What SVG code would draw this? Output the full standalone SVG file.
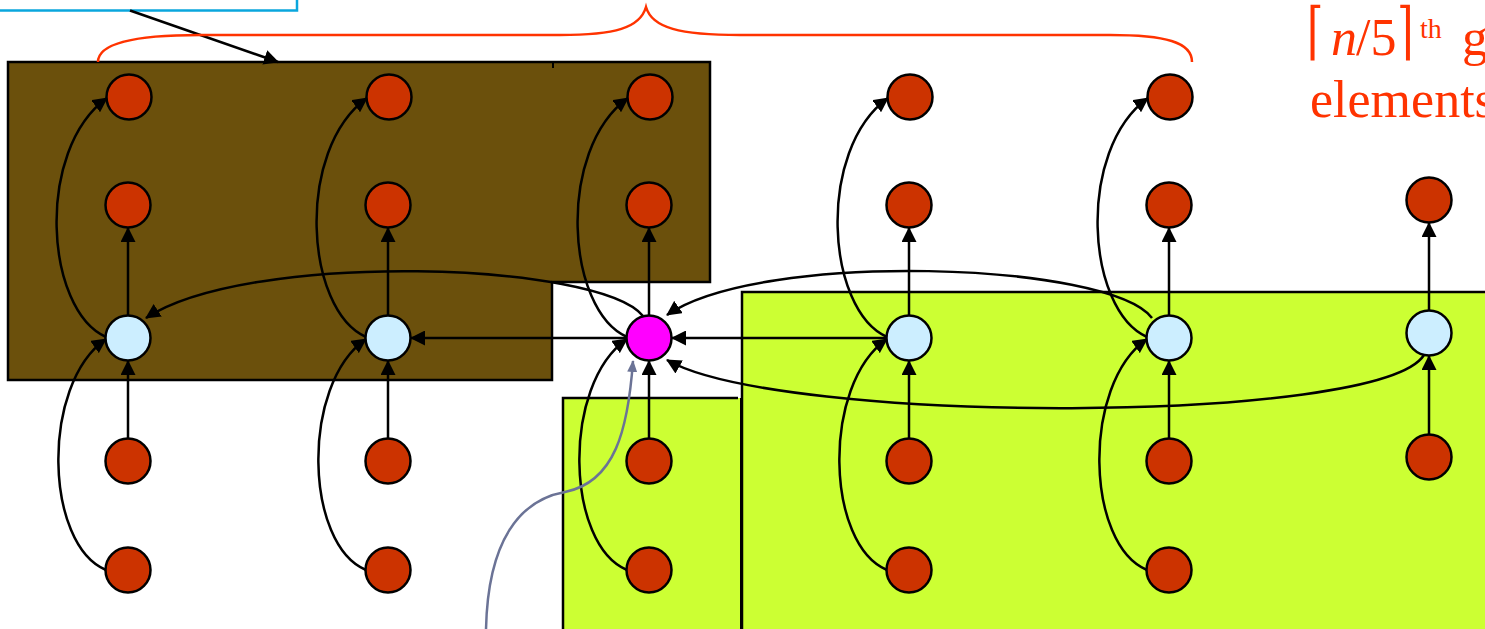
<svg xmlns="http://www.w3.org/2000/svg" width="1485" height="629" viewBox="0 0 1485 629">
  <style>
    .red { fill: #cc3300; stroke: #000; stroke-width: 2.5; }
    .med { fill: #cceeff; stroke: #000; stroke-width: 2.5; }
    .mom { fill: #ff00ff; stroke: #000; stroke-width: 2.5; }
    .edge { fill: none; stroke: #000; stroke-width: 2.5; marker-end: url(#ah); }
    .lbl { font-family: "Liberation Serif", "DejaVu Serif", serif; fill: #ff3300; }
    .brk { font-family: "DejaVu Serif", serif; fill: #ff3300; font-size: 50px; }
  </style>
  <defs>
    <marker id="ah" markerWidth="15" markerHeight="15" refX="14" refY="7.5" orient="auto" markerUnits="userSpaceOnUse">
      <path d="M0,0 L15,7.5 L0,15 z" fill="#000"/>
    </marker>
    <marker id="ahg" markerWidth="12" markerHeight="10" refX="11" refY="5" orient="auto" markerUnits="userSpaceOnUse">
      <path d="M0,0 L12,5 L0,10 z" fill="#6b7396"/>
    </marker>
  </defs>

  <rect width="1485" height="629" fill="#fff"/>

  <!-- shaded regions -->
  <g id="regions">
    <path d="M8,62 H710 V282 H552 V380 H8 Z" fill="#6b500c" stroke="#000" stroke-width="2.5"/>
    <line x1="553" y1="62" x2="553" y2="68" stroke="#000" stroke-width="2"/>
    <rect x="742" y="292" width="760" height="360" fill="#ccff33" stroke="#000" stroke-width="2.5"/>
    <path d="M563,640 V398 H740 V640 Z" fill="#ccff33"/>
    <path d="M563,640 V398 H738" fill="none" stroke="#000" stroke-width="2.5"/>
    <line x1="740.5" y1="398" x2="740.5" y2="640" stroke="#000" stroke-width="1"/>
  </g>

  <!-- callout box and brace -->
  <g id="callout">
    <rect x="-10" y="-10" width="307" height="20.5" fill="#fff" stroke="#0aa6dd" stroke-width="2.5"/>
    <line x1="130" y1="10.5" x2="278" y2="62" class="edge"/>
  </g>
  <g id="brace">
    <path d="M98,62 C98,42 140,35 200,35 L560,35 C615,35 640,28 646,7 C652,28 680,35 740,35 L1110,35 C1165,35 1192,42 1192,62" fill="none" stroke="#ff3300" stroke-width="2.5"/>
  </g>

  <g id="label">
    <text class="brk" transform="translate(1307,52) scale(0.85,1.25)">⌈</text>
    <text class="brk" transform="translate(1397,52) scale(0.85,1.25)">⌉</text>
    <text class="lbl" y="55" font-size="52"><tspan x="1331" font-style="italic">n</tspan><tspan x="1356">/5</tspan><tspan x="1420" y="38" font-size="28">th</tspan><tspan x="1462" y="55">g</tspan></text>
    <text class="lbl" x="1310" y="117" font-size="52">elements</text>
  </g>

  <!-- connectors -->
  <g id="connectors">
    <!-- columns: 129, 388, 649, 909, 1169, 1429 -->
    <!-- vertical: median to upper element -->
    <line class="edge" x1="128" y1="315" x2="128" y2="228"/>
    <line class="edge" x1="388" y1="315" x2="388" y2="228"/>
    <line class="edge" x1="649" y1="315" x2="649" y2="228"/>
    <line class="edge" x1="909" y1="315" x2="909" y2="228"/>
    <line class="edge" x1="1169" y1="315" x2="1169" y2="228"/>
    <line class="edge" x1="1429" y1="310" x2="1429" y2="223"/>
    <!-- vertical: lower element to median -->
    <line class="edge" x1="128" y1="438" x2="128" y2="361"/>
    <line class="edge" x1="388" y1="438" x2="388" y2="361"/>
    <line class="edge" x1="649" y1="438" x2="649" y2="361"/>
    <line class="edge" x1="909" y1="438" x2="909" y2="361"/>
    <line class="edge" x1="1169" y1="438" x2="1169" y2="361"/>
    <line class="edge" x1="1429" y1="434" x2="1429" y2="356"/>
    <!-- curved: median to top element -->
    <path class="edge" d="M106,337 C45,310 35,150 107,98"/>
    <path class="edge" d="M366,337 C305,310 295,150 367,98"/>
    <path class="edge" d="M627,337 C566,310 556,150 628,98"/>
    <path class="edge" d="M887,337 C826,310 816,150 888,98"/>
    <path class="edge" d="M1147,337 C1086,310 1076,150 1148,98"/>
    <!-- curved: bottom element to median -->
    <path class="edge" d="M106,570 C45,545 40,385 106,339"/>
    <path class="edge" d="M366,570 C305,545 300,385 366,339"/>
    <path class="edge" d="M627,570 C566,545 561,385 627,339"/>
    <path class="edge" d="M887,570 C826,545 821,385 887,339"/>
    <path class="edge" d="M1147,570 C1086,545 1081,385 1147,339"/>
    <!-- median of medians links -->
    <line class="edge" x1="627" y1="338" x2="411" y2="338"/>
    <line class="edge" x1="887" y1="338" x2="672" y2="338"/>
    <path class="edge" d="M643,316 C600,262 250,250 146,318"/>
    <path class="edge" d="M1152,318 C1110,262 760,250 667,315"/>
    <path class="edge" d="M1424,355 C1380,425 780,425 667,360"/>
    <!-- pointer to median of medians -->
    <path d="M486,629 C488,540 520,500 565,492 C615,482 628,430 633,361" fill="none" stroke="#6b7396" stroke-width="2.5" marker-end="url(#ahg)"/>
  </g>

  <!-- elements -->
  <g id="col1">
    <circle class="red" cx="129" cy="97" r="22.5"/>
    <circle class="red" cx="128" cy="205" r="22.5"/>
    <circle class="med" cx="128" cy="338" r="22.5"/>
    <circle class="red" cx="128" cy="461" r="22.5"/>
    <circle class="red" cx="128" cy="570" r="22.5"/>
  </g>
  <g id="col2">
    <circle class="red" cx="389" cy="97" r="22.5"/>
    <circle class="red" cx="388" cy="205" r="22.5"/>
    <circle class="med" cx="388" cy="338" r="22.5"/>
    <circle class="red" cx="388" cy="461" r="22.5"/>
    <circle class="red" cx="388" cy="570" r="22.5"/>
  </g>
  <g id="col3">
    <circle class="red" cx="650" cy="97" r="22.5"/>
    <circle class="red" cx="649" cy="205" r="22.5"/>
    <circle class="mom" cx="649" cy="338" r="22.5"/>
    <circle class="red" cx="649" cy="461" r="22.5"/>
    <circle class="red" cx="649" cy="570" r="22.5"/>
  </g>
  <g id="col4">
    <circle class="red" cx="910" cy="97" r="22.5"/>
    <circle class="red" cx="909" cy="205" r="22.5"/>
    <circle class="med" cx="909" cy="338" r="22.5"/>
    <circle class="red" cx="909" cy="461" r="22.5"/>
    <circle class="red" cx="909" cy="570" r="22.5"/>
  </g>
  <g id="col5">
    <circle class="red" cx="1170" cy="97" r="22.5"/>
    <circle class="red" cx="1169" cy="205" r="22.5"/>
    <circle class="med" cx="1169" cy="338" r="22.5"/>
    <circle class="red" cx="1169" cy="461" r="22.5"/>
    <circle class="red" cx="1169" cy="570" r="22.5"/>
  </g>
  <g id="col6">
    <circle class="red" cx="1429" cy="200" r="22.5"/>
    <circle class="med" cx="1429" cy="333" r="22.5"/>
    <circle class="red" cx="1429" cy="457" r="22.5"/>
  </g>
</svg>
